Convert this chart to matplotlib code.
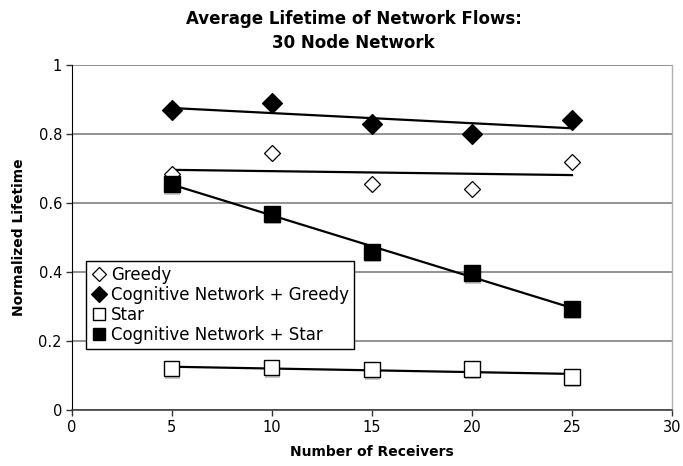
import numpy as np
import matplotlib
matplotlib.use("Agg")
import matplotlib.pyplot as plt
import matplotlib.patheffects as pe

receivers = [5, 10, 15, 20, 25]
greedy = [0.684, 0.746, 0.655, 0.640, 0.718]
cn_greedy = [0.870, 0.890, 0.829, 0.799, 0.842]
star = [0.120, 0.123, 0.118, 0.119, 0.096]
cn_star = [0.655, 0.569, 0.459, 0.397, 0.294]

series_labels = ["Greedy", "Cognitive Network + Greedy", "Star", "Cognitive Network + Star"]
title_lines = ["Average Lifetime of Network Flows:", "30 Node Network"]
xlabel = "Number of Receivers"
ylabel = "Normalized Lifetime"

plt.rcParams['font.family'] = ['DejaVu Sans']

fig = plt.figure(figsize=(6.83, 4.66), dpi=100)
ax = fig.add_axes([0.105, 0.120, 0.879, 0.7405])

ax.set_xlim(0, 30)
ax.set_ylim(0, 1)
ax.set_xticks([0, 5, 10, 15, 20, 25, 30])
ax.set_yticks([0, 0.2, 0.4, 0.6, 0.8, 1.0])
ax.set_yticklabels(["0", "0.2", "0.4", "0.6", "0.8", "1"])
ax.yaxis.grid(True, color='#808080', linewidth=1.2)
ax.set_axisbelow(True)
ax.tick_params(axis='both', direction='out', length=4, width=1, labelsize=10.5, pad=3, color='#333333')

ax.spines['right'].set_color('#b0b0b0')
ax.spines['right'].set_linewidth(1)
ax.spines['top'].set_visible(False)
ax.spines['left'].set_color('black')
ax.spines['bottom'].set_color('#404040')
ax.spines['bottom'].set_linewidth(1.2)

shadow = [pe.SimplePatchShadow(offset=(0.5, -1.8), shadow_rgbFace='#c8c8c8', alpha=1.0), pe.Normal()]

x = np.array(receivers, dtype=float)
data = [greedy, cn_greedy, star, cn_star]
for y in data:
    c = np.polyfit(x, np.array(y), 1)
    xe = np.array([x.min(), x.max()])
    ax.plot(xe, np.polyval(c, xe), color='black', linewidth=1.6, zorder=3)

ax.plot(receivers, greedy, linestyle='none', marker='D', markersize=8.5,
        markerfacecolor='white', markeredgecolor='black', markeredgewidth=0.9,
        label=series_labels[0], zorder=4)
ax.plot(receivers, cn_greedy, linestyle='none', marker='D', markersize=10,
        markerfacecolor='black', markeredgecolor='black', markeredgewidth=0.9,
        label=series_labels[1], zorder=4)
ax.plot(receivers, star, linestyle='none', marker='s', markersize=11,
        markerfacecolor='white', markeredgecolor='black', markeredgewidth=1.0,
        label=series_labels[2], zorder=4, path_effects=shadow)
ax.plot(receivers, cn_star, linestyle='none', marker='s', markersize=11.5,
        markerfacecolor='black', markeredgecolor='black', markeredgewidth=1.0,
        label=series_labels[3], zorder=4, path_effects=shadow)

leg = ax.legend(loc='lower left', bbox_to_anchor=(0.024, 0.177), borderaxespad=0,
                fontsize=12, frameon=True, fancybox=False, framealpha=1,
                edgecolor='black', handlelength=0.9, handletextpad=0.3,
                labelspacing=0.12, borderpad=0.3, markerscale=0.8)
leg.get_frame().set_linewidth(1.0)
for h in leg.legend_handles:
    h.set_path_effects([])

fig.text(0.518, 1 - 24/466, title_lines[0], ha='center', va='baseline',
         fontsize=12, fontweight='bold')
fig.text(0.518, 1 - 48/466, title_lines[1], ha='center', va='baseline',
         fontsize=12, fontweight='bold')
ax.set_xlabel(xlabel, fontsize=10, fontweight='bold', labelpad=7)
ax.set_ylabel(ylabel, fontsize=10, fontweight='bold', labelpad=9)

fig.savefig("out.png", dpi=100)
